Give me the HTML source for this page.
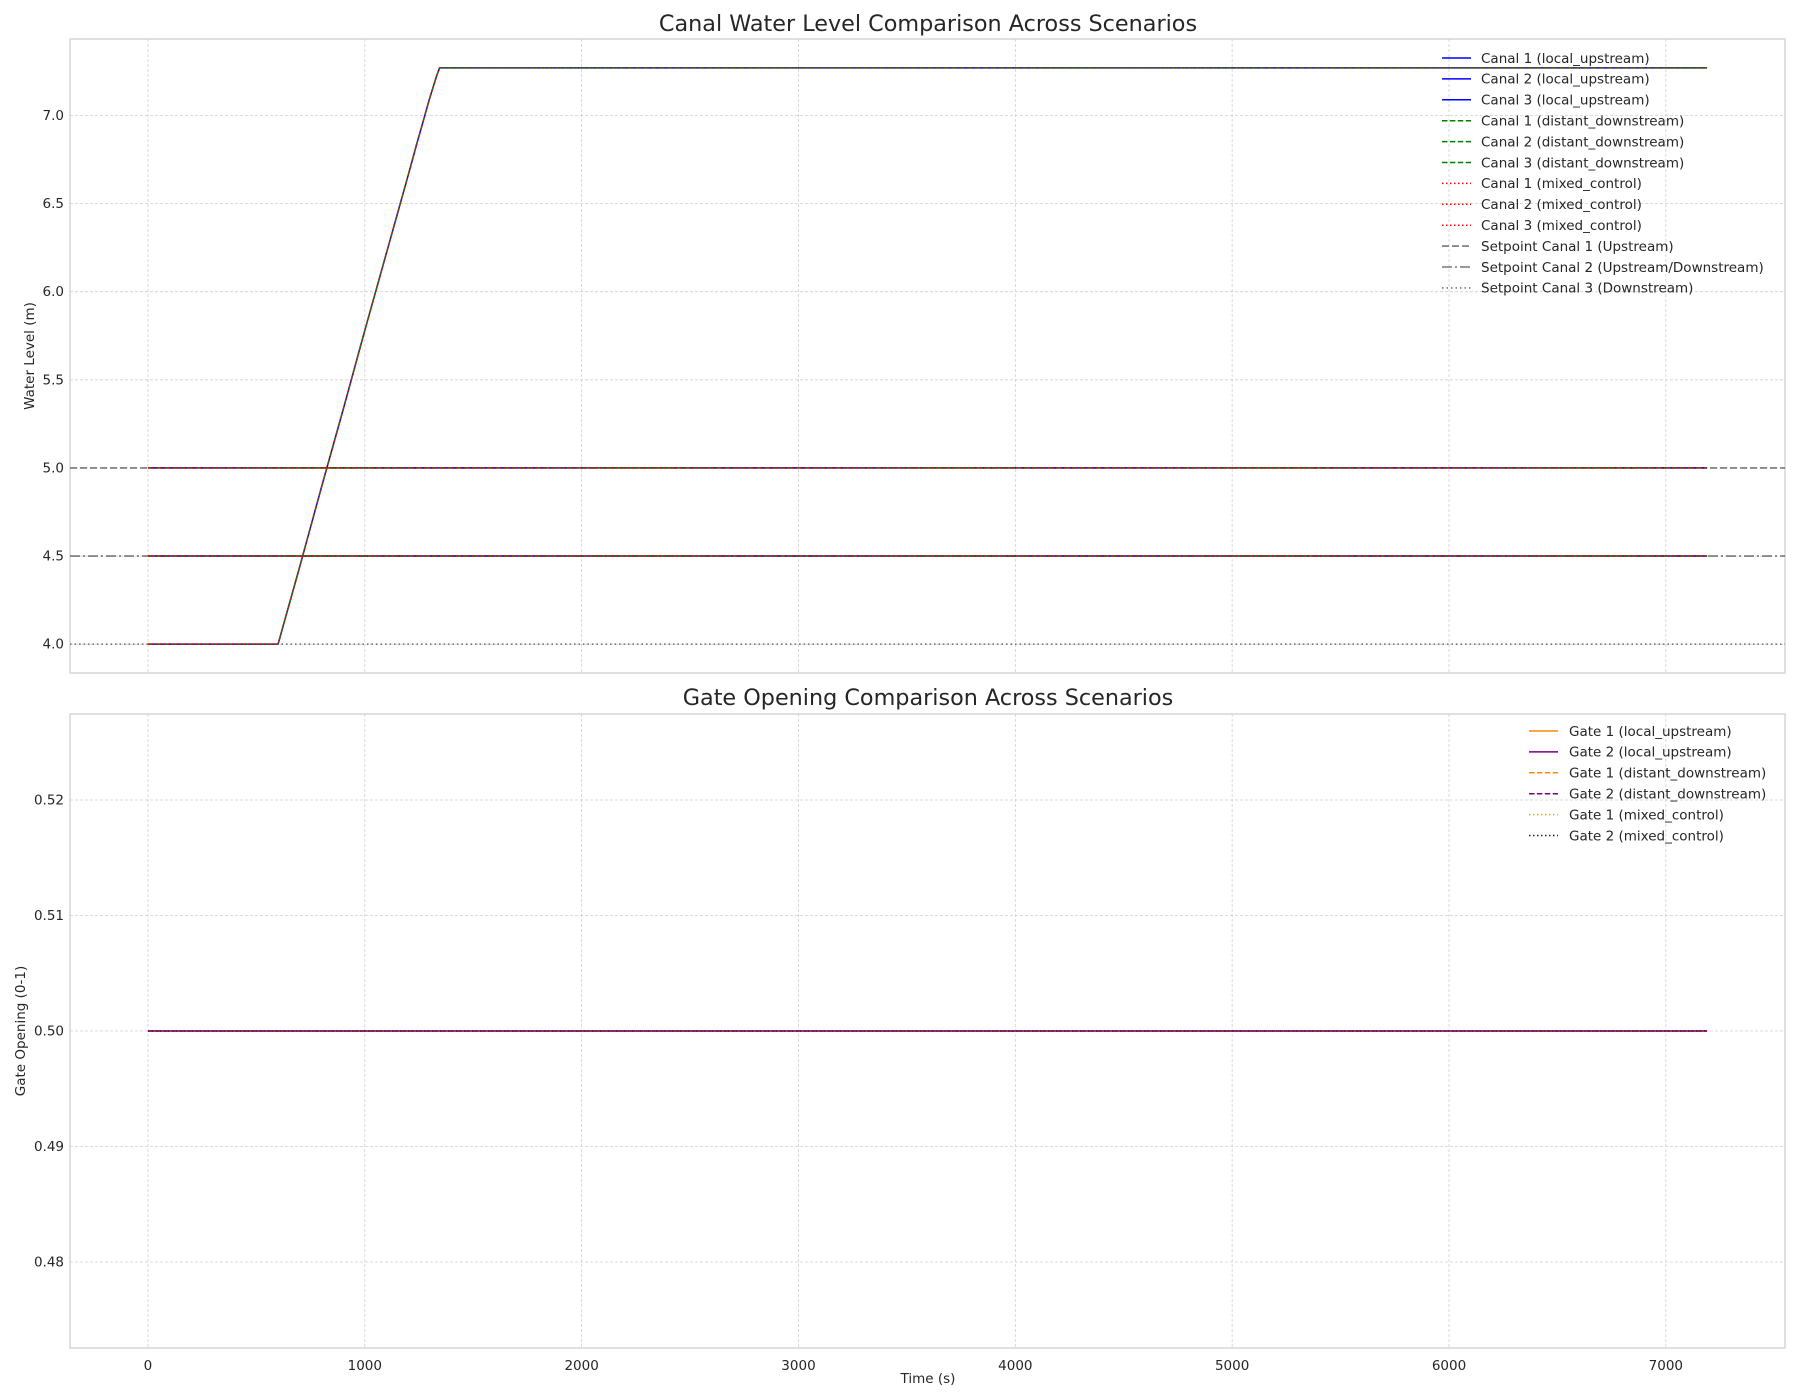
<!DOCTYPE html>
<html><head><meta charset="utf-8"><style>
html,body{margin:0;padding:0;background:#fff;}
svg{display:block;font-family:"DejaVu Sans","Liberation Sans",sans-serif;}
</style></head><body>
<svg id="chart" width="1800" height="1400" viewBox="0 0 1800 1400"></svg>
<script>
// ---- data ----
const timeRamp = [0,600,700,800,900,1000,1100,1200,1240,1270,1295,1315,1330,1345,7190];
const levelRamp = [4.0,4.0,4.44,4.89,5.33,5.78,6.22,6.66,6.84,6.97,7.08,7.16,7.22,7.27,7.27];
const timeFlat = [0,7190];
const levelCanal2 = [5.0,5.0];
const levelCanal3 = [4.5,4.5];
const setpoints = [5.0,4.5,4.0];
const setpointLabels = ["Setpoint Canal 1 (Upstream)","Setpoint Canal 2 (Upstream/Downstream)","Setpoint Canal 3 (Downstream)"];
const gateTime = [0,7190];
const gate1 = [0.5,0.5];
const gate2 = [0.5,0.5];
const xTicks = [0,1000,2000,3000,4000,5000,6000,7000];
const yTicksTop = [4.0,4.5,5.0,5.5,6.0,6.5,7.0];
const yTicksBot = [0.48,0.49,0.50,0.51,0.52];
const scenarios = ["local_upstream","distant_downstream","mixed_control"];

const svg = document.getElementById('chart');
const NS = 'http://www.w3.org/2000/svg';
function mk(tag, attrs, parent){const e=document.createElementNS(NS,tag);for(const k in attrs)e.setAttribute(k,attrs[k]);(parent||svg).appendChild(e);return e;}

const L=70,R=1785;
const xMin=-359.5,xMax=7549.5;
const xs = v => L + (v-xMin)/(xMax-xMin)*(R-L);
const topP = {T:39,B:673,min:3.8365,max:7.4335};
const botP = {T:714,B:1348,min:0.47255,max:0.52745};
const ysT = v => topP.B - (v-topP.min)/(topP.max-topP.min)*(topP.B-topP.T);
const ysB = v => botP.B - (v-botP.min)/(botP.max-botP.min)*(botP.B-botP.T);
const FS = 13.5;

function axes(P, ys, yticks, fmt, name){
  const g = mk('g',{});
  
  
  xTicks.forEach(t=>{const l=mk('line',{x1:xs(t),x2:xs(t),y1:P.T,y2:P.B,stroke:'#d0d0d0','stroke-width':0.8,'stroke-dasharray':'3,2'},g);
    });
  yticks.forEach(t=>{const y=ys(t);const l=mk('line',{x1:L,x2:R,y1:y,y2:y,stroke:'#d0d0d0','stroke-width':0.8,'stroke-dasharray':'3,2'},g);
    
    const tx=mk('text',{x:L-6,y:y+4.5,'text-anchor':'end','font-size':FS,fill:'#262626'},g);tx.textContent=fmt(t);
    });
  const f=mk('rect',{x:L,y:P.T,width:R-L,height:P.B-P.T,fill:'none',stroke:'#cccccc','stroke-width':1.2},g);
  
  return g;
}
function poly(xsArr, ysArr, ys, attrs, name){
  const pts = xsArr.map((t,i)=>xs(t).toFixed(2)+','+ys(ysArr[i]).toFixed(2)).join(' ');
  const p = mk('polyline', Object.assign({points:pts,fill:'none','stroke-linejoin':'round'},attrs));
  
  
  return p;
}
function text(x,y,s,size,attrs,name){const t=mk('text',Object.assign({x:x,y:y,'font-size':size,fill:'#262626'},attrs||{}));t.textContent=s;
  return t;}

// ---- top panel ----
axes(topP, ysT, yTicksTop, v=>v.toFixed(1), 'water-level-axes');
text(928,31,'Canal Water Level Comparison Across Scenarios',22.3,{'text-anchor':'middle'},'top-chart-title');
text(34,356,'Water Level (m)',FS,{'text-anchor':'middle',transform:'rotate(-90 34 356)'},'y-axis-title-top');

const styles = [
  {stroke:'#0000ff','stroke-width':1.5},
  {stroke:'#008000','stroke-width':1.5,'stroke-dasharray':'5.5,2.4'},
  {stroke:'#ff0000','stroke-width':1.5,'stroke-dasharray':'1.5,2.5'}
];
const spStyles = [
  {stroke:'#777','stroke-width':1.6,'stroke-dasharray':'7,3'},
  {stroke:'#777','stroke-width':1.6,'stroke-dasharray':'10,3,2,3'},
  {stroke:'#777','stroke-width':1.6,'stroke-dasharray':'1.5,3'}
];
setpoints.forEach((v,i)=>{
  const l=mk('line',Object.assign({x1:L,x2:R,y1:ysT(v),y2:ysT(v)},spStyles[i]));
  
  
});
styles.forEach((st,i)=>{
  poly(timeRamp, levelRamp, ysT, st, 'canal-1-'+scenarios[i]);
  poly(timeFlat, levelCanal2, ysT, st, 'canal-2-'+scenarios[i]);
  poly(timeFlat, levelCanal3, ysT, st, 'canal-3-'+scenarios[i]);
});
const legTop = [];
scenarios.forEach((s,i)=>{for(let c=1;c<=3;c++) legTop.push({label:'Canal '+c+' ('+s+')',st:styles[i]});});
setpointLabels.forEach((s,i)=>legTop.push({label:s,st:spStyles[i]}));
const lgT = mk('g',{});


legTop.forEach((e,i)=>{
  const y=58+i*20.9;
  const l=mk('line',Object.assign({x1:1442,x2:1471,y1:y,y2:y},e.st),lgT);
  
  const t=mk('text',{x:1481,y:y+4.8,'font-size':FS,fill:'#262626'},lgT);t.textContent=e.label;
  
});

// ---- bottom panel ----
axes(botP, ysB, yTicksBot, v=>v.toFixed(2), 'gate-opening-axes');
text(928,705,'Gate Opening Comparison Across Scenarios',22.3,{'text-anchor':'middle'},'bottom-chart-title');
text(25,1031,'Gate Opening (0-1)',FS,{'text-anchor':'middle',transform:'rotate(-90 25 1031)'},'y-axis-title-bottom');
xTicks.forEach(t=>{text(xs(t),1370,String(t),FS,{'text-anchor':'middle'},'x-tick-label');});
text(928,1383,'Time (s)',FS,{'text-anchor':'middle'},'x-axis-title');

const gStyles = [
  {stroke:'#ff8c00','stroke-width':1.5},{stroke:'#800080','stroke-width':1.5},
  {stroke:'#ff8c00','stroke-width':1.5,'stroke-dasharray':'5.5,2.4'},{stroke:'#800080','stroke-width':1.5,'stroke-dasharray':'5.5,2.4'},
  {stroke:'#ffa500','stroke-width':1.5,'stroke-dasharray':'1.5,2.5'},{stroke:'#4b0050','stroke-width':1.5,'stroke-dasharray':'1.5,2.5'}
];
const legBot=[];
scenarios.forEach((s,i)=>{
  poly(gateTime, gate1, ysB, gStyles[i*2], 'gate-1-'+s);
  poly(gateTime, gate2, ysB, gStyles[i*2+1], 'gate-2-'+s);
  legBot.push({label:'Gate 1 ('+s+')',st:gStyles[i*2]});
  legBot.push({label:'Gate 2 ('+s+')',st:gStyles[i*2+1]});
});
const lgB = mk('g',{});


legBot.forEach((e,i)=>{
  const y=731+i*20.9;
  const l=mk('line',Object.assign({x1:1529,x2:1558,y1:y,y2:y},e.st),lgB);
  
  const t=mk('text',{x:1569,y:y+4.8,'font-size':FS,fill:'#262626'},lgB);t.textContent=e.label;
  
});
</script>
</body></html>
